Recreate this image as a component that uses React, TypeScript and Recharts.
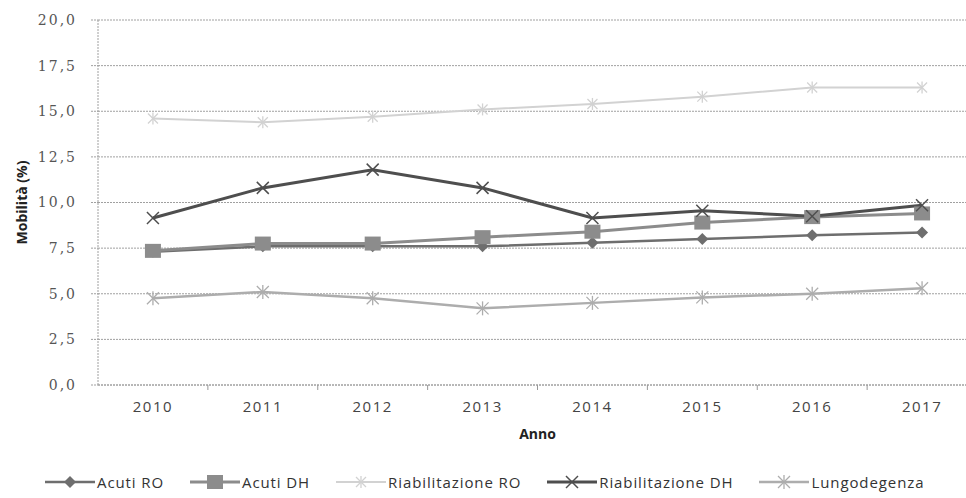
import React from 'react'
import {
  LineChart, Line, XAxis, YAxis, CartesianGrid, Legend, Label,
} from 'recharts'

const years = ['2010', '2011', '2012', '2013', '2014', '2015', '2016', '2017']
const acutiRO = [7.3, 7.6, 7.6, 7.6, 7.8, 8.0, 8.2, 8.35]
const acutiDH = [7.35, 7.75, 7.75, 8.1, 8.4, 8.9, 9.2, 9.4]
const riabRO = [14.6, 14.4, 14.7, 15.1, 15.4, 15.8, 16.3, 16.3]
const riabDH = [9.15, 10.8, 11.8, 10.8, 9.15, 9.55, 9.25, 9.85]
const lungo = [4.75, 5.1, 4.75, 4.2, 4.5, 4.8, 5.0, 5.3]
const yTicks = [0, 2.5, 5, 7.5, 10, 12.5, 15, 17.5, 20]

type Shape = 'diamond' | 'square' | 'star' | 'cross' | 'asterisk'

const series: { key: string; name: string; color: string; width: number; shape: Shape; size: number }[] = [
  { key: 'acutiRO', name: 'Acuti RO', color: '#6e6e6e', width: 2.5, shape: 'diamond', size: 6 },
  { key: 'acutiDH', name: 'Acuti DH', color: '#8c8c8c', width: 3, shape: 'square', size: 8 },
  { key: 'riabRO', name: 'Riabilitazione RO', color: '#d2d2d2', width: 2, shape: 'star', size: 5 },
  { key: 'riabDH', name: 'Riabilitazione DH', color: '#4e4e4e', width: 3, shape: 'cross', size: 6 },
  { key: 'lungo', name: 'Lungodegenza', color: '#adadad', width: 2.5, shape: 'asterisk', size: 6 },
]

const data = years.map((year, i) => ({
  year,
  acutiRO: acutiRO[i],
  acutiDH: acutiDH[i],
  riabRO: riabRO[i],
  riabDH: riabDH[i],
  lungo: lungo[i],
}))

const W = 990
const H = 498
const ML = 38
const MR = 13
const YW = 60
const PLOT_W = W - ML - MR - YW
const BAND = PLOT_W / years.length

function Marker({ cx, cy, shape, color, size }: { cx: number; cy: number; shape: Shape; color: string; size: number }) {
  const s = size
  if (shape === 'diamond') {
    return <polygon points={`${cx},${cy - s} ${cx + s},${cy} ${cx},${cy + s} ${cx - s},${cy}`} fill={color} />
  }
  if (shape === 'square') {
    return <rect x={cx - s} y={cy - s + 1} width={s * 2} height={s * 2 - 2} fill={color} />
  }
  if (shape === 'cross') {
    return (
      <g stroke={color} strokeWidth={1.5}>
        <line x1={cx - s} y1={cy - s} x2={cx + s} y2={cy + s} />
        <line x1={cx - s} y1={cy + s} x2={cx + s} y2={cy - s} />
      </g>
    )
  }
  // star / asterisk
  return (
    <g stroke={color} strokeWidth={1.3}>
      <line x1={cx - s} y1={cy - s} x2={cx + s} y2={cy + s} />
      <line x1={cx - s} y1={cy + s} x2={cx + s} y2={cy - s} />
      <line x1={cx} y1={cy - s - 1} x2={cx} y2={cy + s + 1} />
    </g>
  )
}

function makeDot(sr: (typeof series)[number]) {
  return (props: any) => (
    <Marker key={`${sr.key}-${props.index}`} cx={props.cx} cy={props.cy} shape={sr.shape} color={sr.color} size={sr.size} />
  )
}

function YearTick(props: any) {
  const { x, y, payload, index } = props
  return (
    <g>
      {index > 0 && <line x1={x - BAND / 2} y1={y} x2={x - BAND / 2} y2={y + 5} stroke="#999" />}
      <text x={x} y={y + 27} textAnchor="middle" fill="#444" fontFamily="'Open Sans'" fontSize={15} letterSpacing={1.5}>
        {payload.value}
      </text>
    </g>
  )
}

function LegendContent() {
  return (
    <div style={{ display: 'flex', alignItems: 'center', paddingLeft: 45, height: 28, width: 966, boxSizing: 'border-box', whiteSpace: 'nowrap', fontFamily: "'Open Sans'", fontSize: 15, color: '#333' }}>
      {series.map((sr) => (
        <div key={sr.key} style={{ display: 'flex', alignItems: 'center', flexShrink: 0, marginRight: 26 }}>
          <svg width={50} height={18} style={{ flexShrink: 0 }}>
            <line x1={0} y1={9} x2={50} y2={9} stroke={sr.color} strokeWidth={sr.width} />
            <Marker cx={25} cy={9} shape={sr.shape} color={sr.color} size={sr.size} />
          </svg>
          <span style={{ marginLeft: 2, letterSpacing: 0.9 }}>{sr.name}</span>
        </div>
      ))}
    </div>
  )
}

export default function App() {
  return (
    <div style={{ position: 'absolute', left: 0, top: 0, width: 966, height: H, overflow: 'hidden', background: '#fff' }}>
      <LineChart width={W} height={H} data={data} margin={{ top: 20, right: MR, bottom: 2, left: ML }}>
        <CartesianGrid vertical={false} stroke="#a0a0a0" strokeDasharray="2 1" />
        <XAxis
          dataKey="year"
          height={83}
          padding={{ left: BAND / 2, right: BAND / 2 }}
          tickLine={false}
          tickSize={0}
          tickMargin={0}
          axisLine={{ stroke: '#a0a0a0', strokeDasharray: '2 1' }}
          tick={<YearTick />}
          interval={0}
        >
          <Label value="Anno" position="insideTop" offset={44} fill="#222" fontFamily="'Open Sans'" fontWeight="bold" fontSize={14} />
        </XAxis>
        <YAxis
          width={YW}
          domain={[0, 20]}
          ticks={yTicks}
          interval={0}
          tickSize={7}
          tickMargin={14}
          tickLine={{ stroke: '#a0a0a0', strokeDasharray: '2 1' }}
          axisLine={{ stroke: '#a0a0a0', strokeDasharray: '2 1' }}
          tickFormatter={(v: number) => v.toFixed(1).replace('.', ',')}
          tick={{ fill: '#555', fontFamily: "'DejaVu Serif'", fontSize: 14, letterSpacing: 2 }}
        >
          <Label value="Mobilità (%)" angle={-90} position="insideLeft" offset={-16} fill="#222" fontFamily="'Open Sans'" fontWeight="bold" fontSize={14} style={{ textAnchor: 'middle' }} />
        </YAxis>
        <Legend verticalAlign="bottom" height={28} content={<LegendContent />} wrapperStyle={{ left: 0, width: 966 }} />
        {series.map((sr) => (
          <Line
            key={sr.key}
            dataKey={sr.key}
            name={sr.name}
            stroke={sr.color}
            strokeWidth={sr.width}
            dot={makeDot(sr)}
            activeDot={false}
            isAnimationActive={false}
          />
        ))}
      </LineChart>
    </div>
  )
}
